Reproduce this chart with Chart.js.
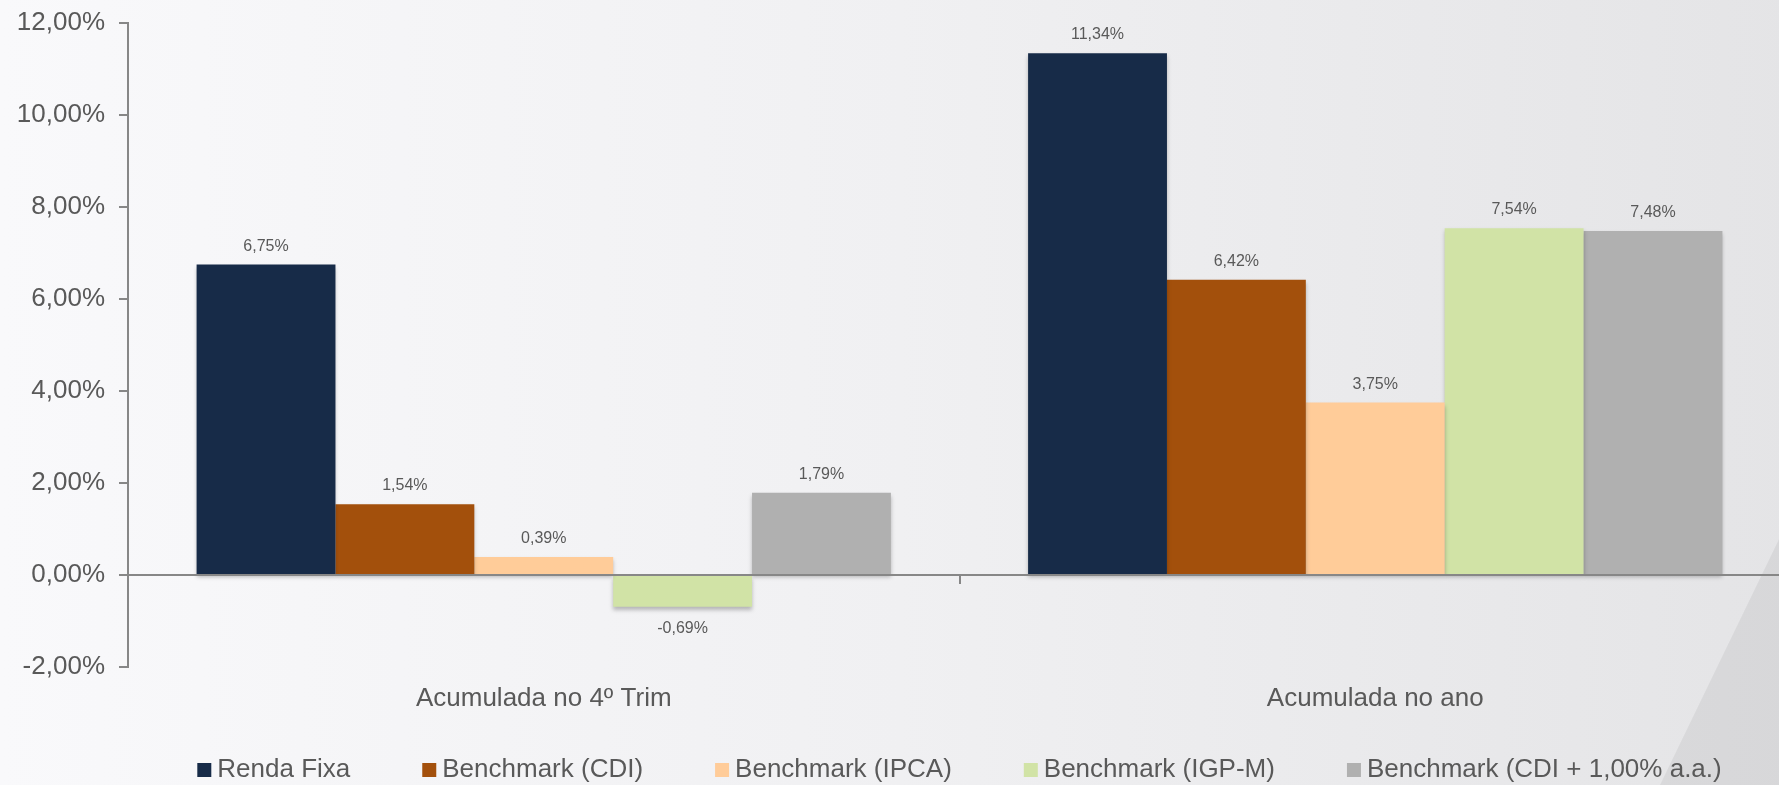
<!DOCTYPE html>
<html>
<head>
<meta charset="utf-8">
<script src="https://cdn.jsdelivr.net/npm/chart.js@4/dist/chart.umd.min.js"></script>
<style>
  html, body { margin: 0; padding: 0; overflow: hidden; background: #f4f4f6; }
  #wrap { width: 1800px; height: 785px; }
</style>
</head>
<body>
<div id="wrap"><canvas id="myChart" width="1800" height="785"></canvas></div>
<script>
// data
const categories = ['Acumulada no 4º Trim', 'Acumulada no ano'];
const seriesNames = ['Renda Fixa', 'Benchmark (CDI)', 'Benchmark (IPCA)', 'Benchmark (IGP-M)', 'Benchmark (CDI + 1,00% a.a.)'];
const rendaFixa = [6.75, 11.34];
const cdi = [1.54, 6.42];
const ipca = [0.39, 3.75];
const igpm = [-0.69, 7.54];
const cdiPlus = [1.79, 7.48];
const yMin = -2, yMax = 12, yStep = 2;

const seriesValues = [rendaFixa, cdi, ipca, igpm, cdiPlus];
const seriesColors = ['#172b48', '#a3500c', '#ffcc99', '#d1e3a6', '#b0b0b0'];

const FONT = "'Liberation Sans', Arial, sans-serif";
const TEXT = '#595959';
const AXIS = '#878787';

function pct(v) {
    return v.toFixed(2).replace('.', ',') + '%';
}

// page background, light grey gradient with the diagonal in the corner
const background = {
    id: 'background',
    beforeDraw(chart) {
        const ctx = chart.ctx;
        const w = chart.width, h = chart.height;
        ctx.save();
        const g = ctx.createLinearGradient(0, 0, w, 0);
        g.addColorStop(0, '#f9f9fb');
        g.addColorStop(0.5, '#f0f0f2');
        g.addColorStop(1, '#e4e4e6');
        ctx.fillStyle = g;
        ctx.fillRect(0, 0, w, h);
        ctx.fillStyle = 'rgba(0,0,0,0.055)';
        ctx.beginPath();
        ctx.moveTo(1798, 500);
        ctx.lineTo(w, 500);
        ctx.lineTo(w, h);
        ctx.lineTo(1660, h);
        ctx.closePath();
        ctx.fill();
        ctx.restore();
    }
};

// soft shadow under bars + value labels
const barExtras = {
    id: 'barExtras',
    beforeDatasetsDraw(chart) {
        const ctx = chart.ctx;
        ctx.save();
        ctx.shadowColor = 'rgba(0,0,0,0.25)';
        ctx.shadowBlur = 4;
        ctx.shadowOffsetX = 0;
        ctx.shadowOffsetY = 3;
    },
    afterDatasetsDraw(chart) {
        const ctx = chart.ctx;
        ctx.restore();
        ctx.save();
        ctx.font = '16px ' + FONT;
        ctx.fillStyle = TEXT;
        ctx.textAlign = 'center';
        ctx.textBaseline = 'alphabetic';
        chart.data.datasets.forEach((ds, i) => {
            const meta = chart.getDatasetMeta(i);
            meta.data.forEach((bar, j) => {
                const v = ds.data[j];
                const y = v >= 0 ? bar.y - 14 : bar.y + 26;
                ctx.fillText(pct(v), bar.x, y);
            });
        });
        ctx.restore();
    },
    afterDraw(chart) {
        // small tick on the zero line between the two categories
        const ctx = chart.ctx;
        const x = chart.scales.x, y = chart.scales.y;
        const y0 = y.getPixelForValue(0);
        ctx.save();
        ctx.strokeStyle = AXIS;
        ctx.lineWidth = 2;
        for (let i = 1; i < categories.length; i++) {
            const px = Math.round((x.getPixelForValue(i - 1) + x.getPixelForValue(i)) / 2);
            ctx.beginPath();
            ctx.moveTo(px, y0);
            ctx.lineTo(px, y0 + 9);
            ctx.stroke();
        }

        // legend, centred under the plot
        ctx.font = '26px ' + FONT;
        ctx.textAlign = 'left';
        ctx.textBaseline = 'alphabetic';
        const box = 14, gap = 6, spacing = 72;
        const widths = seriesNames.map(n => box + gap + ctx.measureText(n).width);
        const total = widths.reduce((a, b) => a + b, 0) + spacing * (widths.length - 1);
        let lx = (chart.chartArea.left + chart.chartArea.right) / 2 - total / 2;
        const base = 777;
        seriesNames.forEach((n, i) => {
            ctx.fillStyle = seriesColors[i];
            ctx.fillRect(lx, base - box, box, box);
            ctx.fillStyle = TEXT;
            ctx.fillText(n, lx + box + gap, base);
            lx += widths[i] + spacing;
        });
        ctx.restore();
    }
};

const datasets = seriesNames.map((name, i) => ({
    label: name,
    data: seriesValues[i],
    backgroundColor: seriesColors[i],
    borderWidth: 0,
    categoryPercentage: 0.835,
    barPercentage: 1.0
}));

new Chart(document.getElementById('myChart'), {
    type: 'bar',
    data: { labels: categories, datasets: datasets },
    plugins: [background, barExtras],
    options: {
        responsive: false,
        animation: false,
        devicePixelRatio: 1,
        layout: { padding: { top: 23, right: 9, left: 0, bottom: 0 } },
        plugins: {
            legend: { display: false },
            tooltip: { enabled: false }
        },
        scales: {
            x: {
                grid: { display: false },
                border: { display: false },
                ticks: {
                    color: TEXT,
                    font: { family: FONT, size: 26 },
                    padding: 8,
                    maxRotation: 0
                },
                afterFit(scale) { scale.height = 118; }
            },
            y: {
                min: yMin,
                max: yMax,
                grid: {
                    color: c => c.tick && c.tick.value === 0 ? AXIS : 'rgba(0,0,0,0)',
                    tickColor: AXIS,
                    lineWidth: 2,
                    tickLength: 9,
                    z: 1
                },
                border: { display: true, color: AXIS, width: 2, z: 2 },
                ticks: {
                    stepSize: yStep,
                    color: TEXT,
                    font: { family: FONT, size: 26 },
                    padding: 14,
                    callback: v => pct(v)
                },
                afterFit(scale) {
                    scale.width = 128;
                    scale.paddingTop = 0;
                    scale.paddingBottom = 0;
                }
            }
        }
    }
});
</script>
</body>
</html>
